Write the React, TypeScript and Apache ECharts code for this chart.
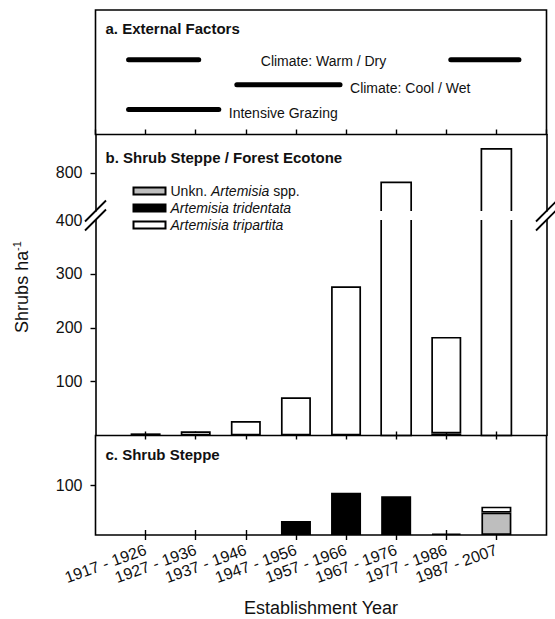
import React, { useEffect, useRef } from 'react';
import * as echarts from 'echarts';

// ---------------- data ----------------
const CATEGORIES = [
  '1917 - 1926', '1927 - 1936', '1937 - 1946', '1947 - 1956',
  '1957 - 1966', '1967 - 1976', '1977 - 1986', '1987 - 2007',
];
const SERIES_NAMES = ['Unkn. Artemisia spp.', 'Artemisia tridentata', 'Artemisia tripartita'];

// b. Shrub Steppe / Forest Ecotone (shrubs per ha)
const B_UNKNOWN = [0, 0, 0, 0, 0, 0, 0, 0];
const B_TRIDENTATA = [4, 0, 0, 0, 0, 0, 4, 0];
const B_TRIPARTITA = [0, 8, 27, 71, 277, 750, 179, 925];

// c. Shrub Steppe (shrubs per ha)
const C_UNKNOWN = [0, 0, 0, 0, 0, 0, 0, 45];
const C_TRIDENTATA = [0, 0, 0, 28, 85, 78, 3, 0];
const C_TRIPARTITA = [0, 0, 0, 0, 0, 0, 0, 12];

// axis ranges and ticks
const B_LOWER_RANGE = [0, 400];
const B_UPPER_RANGE = [600, 1000];
const C_RANGE = [0, 200];
const B_LOWER_TICKS = [100, 200, 300];
const B_LOWER_LABELS = [100, 200, 300, 400];
const B_UPPER_TICKS = [800];
const C_TICKS = [100];

// a. External factors: periods on the category scale (1 = first class centre)
const WARM_DRY = [[0.66, 2.06], [7.09, 8.45]];
const COOL_WET = [[2.82, 4.88]];
const GRAZING = [[0.66, 2.46]];
const WARM_DRY_LABEL_X = 4.55;

// ---------------- layout / style ----------------
const W = 555;
const H = 619;
const L = 95.5;
const R = 546.5;
const A_TOP = 10;
const A_BOT = 134.5;
const BU_BOT = 211;
const BL_TOP = 220;
const B_BOT = 435.5;
const C_BOT = 535;
const BAR_W = 30;
const ROW = { warm: 6, cool: 4, graze: 2 };
const FONT = '"Liberation Sans", Arial, Helvetica, sans-serif';
const INK = '#111';
const FILLS = ['#bebebe', '#000000', '#ffffff'];
const FRAME_W = 1.6;
const BAR_BORDER = 1.7;

const AXIS_CATS = ['', ...CATEGORIES, ''];
const tickFilter = (i: number) => i > 0 && i < AXIS_CATS.length - 1;
const toCat = (arr: number[], keep: (i: number) => boolean = () => true) =>
  ['-', ...arr.map((v, i) => (v && keep(i) ? v : '-')), '-'];

export default function App() {
  const ref = useRef<HTMLDivElement>(null);

  useEffect(() => {
    if (!ref.current) return;
    const chart = echarts.init(ref.current, undefined, { renderer: 'svg' });

    const bTotals = CATEGORIES.map((_, i) => B_UNKNOWN[i] + B_TRIDENTATA[i] + B_TRIPARTITA[i]);
    const notTall = (i: number) => bTotals[i] <= B_LOWER_RANGE[1];
    const tallData = bTotals
      .map((v, i) => [i + 1, v])
      .filter((d) => d[1] > B_LOWER_RANGE[1]);

    const lineW = { color: '#000', width: FRAME_W };
    const tickStyle = { color: '#000', width: 1.4 };
    const catAxisBase = {
      type: 'category',
      data: AXIS_CATS,
      boundaryGap: false,
      axisLine: { show: false, onZero: false },
      splitLine: { show: false },
      axisLabel: { show: false },
    };
    const yBase = {
      type: 'value',
      splitLine: { show: false },
      axisLine: { show: true, onZero: false, lineStyle: lineW },
      axisLabel: { show: false },
      axisTick: { show: false },
    };
    const yLabelStyle = { fontSize: 16, color: INK, fontFamily: FONT, margin: 13 };

    const gridBox = (top: number, bottom: number, border: boolean) => ({
      left: L,
      right: W - R,
      top,
      height: bottom - top,
      show: border,
      borderColor: '#000',
      borderWidth: FRAME_W,
      backgroundColor: 'transparent',
    });

    const barSeries = (
      name: string, data: any[], fill: string, xi: number, yi: number, stack: string
    ) => ({
      type: 'bar',
      name,
      data,
      stack,
      xAxisIndex: xi,
      yAxisIndex: yi,
      barWidth: BAR_W,
      itemStyle: { color: fill, borderColor: '#000', borderWidth: BAR_BORDER },
      emphasis: { disabled: true },
    });

    const periodSeries = (periods: number[][], row: number, label?: string) =>
      periods.map((p, k) => ({
        type: 'line',
        xAxisIndex: 0,
        yAxisIndex: 0,
        data: [[p[0], row], [p[1], row]],
        symbol: 'none',
        lineStyle: { color: '#000', width: 5, cap: 'round' },
        endLabel: label && k === periods.length - 1
          ? { show: true, formatter: label, distance: 10, offset: [0, 3], fontSize: 14, color: INK, fontFamily: FONT }
          : { show: false },
        silent: true,
      }));

    const option: any = {
      animation: false,
      backgroundColor: '#fff',
      textStyle: { fontFamily: FONT },
      grid: [
        gridBox(A_TOP, A_BOT, true),
        gridBox(A_BOT, BU_BOT, false),
        gridBox(BL_TOP, B_BOT, false),
        gridBox(B_BOT, C_BOT, true),
      ],
      xAxis: [
        {
          gridIndex: 0, type: 'value', min: 0, max: AXIS_CATS.length - 1, interval: 1,
          position: 'bottom', axisLine: { show: false, onZero: false },
          axisTick: { show: true, inside: true, length: 5, lineStyle: tickStyle },
          axisLabel: { show: false }, splitLine: { show: false },
        },
        { ...catAxisBase, gridIndex: 1, show: false },
        {
          ...catAxisBase, gridIndex: 2, position: 'bottom',
          axisTick: { show: true, inside: true, length: 4, interval: tickFilter, lineStyle: tickStyle },
        },
        {
          ...catAxisBase, gridIndex: 3, position: 'top',
          axisTick: { show: true, inside: true, length: 4, interval: tickFilter, lineStyle: tickStyle },
        },
        {
          ...catAxisBase, gridIndex: 3, position: 'bottom',
          axisTick: { show: true, inside: false, length: 5, interval: tickFilter, lineStyle: tickStyle },
          axisLabel: { show: true, interval: 0, rotate: 20, margin: 14, fontSize: 16, color: INK, fontFamily: FONT },
          name: 'Establishment Year', nameLocation: 'middle', nameGap: 64,
          nameTextStyle: { fontSize: 18, color: INK, fontFamily: FONT },
        },
        {
          ...catAxisBase, gridIndex: 3, position: 'bottom',
          axisTick: { show: true, inside: true, length: 5, interval: tickFilter, lineStyle: tickStyle },
        },
      ],
      yAxis: [
        { gridIndex: 0, type: 'value', min: 0, max: 10, show: false },
        {
          ...yBase, gridIndex: 1, min: B_UPPER_RANGE[0], max: B_UPPER_RANGE[1], position: 'left',
          axisTick: { show: true, length: 5, customValues: B_UPPER_TICKS, lineStyle: tickStyle },
          axisLabel: { show: true, customValues: B_UPPER_TICKS, ...yLabelStyle },
        },
        { ...yBase, gridIndex: 1, min: B_UPPER_RANGE[0], max: B_UPPER_RANGE[1], position: 'right' },
        {
          ...yBase, gridIndex: 2, min: B_LOWER_RANGE[0], max: B_LOWER_RANGE[1], position: 'left',
          axisTick: { show: true, length: 5, customValues: B_LOWER_TICKS, lineStyle: tickStyle },
          axisLabel: { show: true, customValues: B_LOWER_LABELS, ...yLabelStyle },
        },
        { ...yBase, gridIndex: 2, min: B_LOWER_RANGE[0], max: B_LOWER_RANGE[1], position: 'right' },
        {
          ...yBase, gridIndex: 3, min: C_RANGE[0], max: C_RANGE[1], position: 'left',
          axisLine: { show: false, onZero: false },
          axisTick: { show: true, length: 5, customValues: C_TICKS, lineStyle: tickStyle },
          axisLabel: { show: true, customValues: C_TICKS, ...yLabelStyle },
        },
      ],
      legend: {
        data: SERIES_NAMES,
        orient: 'vertical',
        left: 132.5,
        top: 184,
        padding: 0,
        itemWidth: 32,
        itemHeight: 7,
        itemGap: 3,
        icon: 'rect',
        selectedMode: false,
        formatter: (name: string) =>
          name === SERIES_NAMES[0] ? '{n|Unkn. }{i|Artemisia}{n| spp.}' : `{i|${name}}`,
        textStyle: {
          fontSize: 14,
          color: INK,
          fontFamily: FONT,
          rich: {
            n: { fontSize: 14, color: INK, fontFamily: FONT, lineHeight: 14 },
            i: { fontSize: 14, color: INK, fontFamily: FONT, fontStyle: 'italic', lineHeight: 14 },
          },
        },
      },
      series: [
        ...periodSeries(WARM_DRY, ROW.warm),
        ...periodSeries(COOL_WET, ROW.cool, 'Climate: Cool / Wet'),
        ...periodSeries(GRAZING, ROW.graze, 'Intensive Grazing'),
        {
          type: 'scatter', xAxisIndex: 0, yAxisIndex: 0, silent: true,
          data: [[WARM_DRY_LABEL_X, ROW.warm]],
          symbol: 'circle', symbolSize: 0.5, itemStyle: { color: '#ffffff', opacity: 1 },
          label: {
            show: true, position: 'inside', formatter: 'Climate: Warm / Dry',
            fontSize: 14, color: INK, opacity: 1, fontFamily: FONT, offset: [0, 1],
          },
        },
        // panel b, lower segment
        barSeries(SERIES_NAMES[0], toCat(B_UNKNOWN, notTall), FILLS[0], 2, 3, 'bL'),
        barSeries(SERIES_NAMES[1], toCat(B_TRIDENTATA, notTall), FILLS[1], 2, 3, 'bL'),
        barSeries(SERIES_NAMES[2], toCat(B_TRIPARTITA, notTall), FILLS[2], 2, 3, 'bL'),
        {
          type: 'custom', xAxisIndex: 2, yAxisIndex: 3, silent: true,
          data: tallData,
          renderItem: (_p: any, api: any) => {
            const idx = api.value(0);
            const base = api.coord([idx, B_LOWER_RANGE[0]]);
            const top = api.coord([idx, B_LOWER_RANGE[1]]);
            const l = base[0] - BAR_W / 2;
            const r = base[0] + BAR_W / 2;
            return {
              type: 'polyline',
              shape: { points: [[l, top[1]], [l, base[1]], [r, base[1]], [r, top[1]]] },
              style: { stroke: '#000', lineWidth: BAR_BORDER, fill: 'none' },
            };
          },
        },
        // panel b, upper segment
        {
          type: 'custom', xAxisIndex: 1, yAxisIndex: 1, silent: true,
          data: tallData,
          renderItem: (_p: any, api: any) => {
            const idx = api.value(0);
            const v = api.value(1);
            const base = api.coord([idx, B_UPPER_RANGE[0]]);
            const top = api.coord([idx, v]);
            const l = base[0] - BAR_W / 2;
            const r = base[0] + BAR_W / 2;
            return {
              type: 'polyline',
              shape: { points: [[l, base[1]], [l, top[1]], [r, top[1]], [r, base[1]]] },
              style: { stroke: '#000', lineWidth: BAR_BORDER, fill: 'none' },
            };
          },
        },
        // panel c
        barSeries(SERIES_NAMES[0], toCat(C_UNKNOWN), FILLS[0], 4, 5, 'c'),
        barSeries(SERIES_NAMES[1], toCat(C_TRIDENTATA), FILLS[1], 4, 5, 'c'),
        barSeries(SERIES_NAMES[2], toCat(C_TRIPARTITA), FILLS[2], 4, 5, 'c'),
      ],
      graphic: [
        { type: 'text', x: L + 10, y: 28, style: { text: 'a. External Factors', fontSize: 15, fontWeight: 'bold', fill: INK, fontFamily: FONT, verticalAlign: 'middle' } },
        { type: 'text', x: L + 10, y: 157, style: { text: 'b. Shrub Steppe / Forest Ecotone', fontSize: 15, fontWeight: 'bold', fill: INK, fontFamily: FONT, verticalAlign: 'middle' } },
        { type: 'text', x: L + 10, y: 454, style: { text: 'c. Shrub Steppe', fontSize: 15, fontWeight: 'bold', fill: INK, fontFamily: FONT, verticalAlign: 'middle' } },
        {
          type: 'text', x: 21, y: 287, rotation: Math.PI / 2,
          style: {
            text: '{a|Shrubs ha}{b|-1}',
            align: 'center', verticalAlign: 'middle', fill: INK, fontFamily: FONT,
            rich: {
              a: { fontSize: 18, fontFamily: FONT, fill: INK, lineHeight: 20, verticalAlign: 'bottom' },
              b: { fontSize: 11, fontFamily: FONT, fill: INK, lineHeight: 20, verticalAlign: 'top' },
            },
          },
        },
        // break marks
        ...[L, R].flatMap((x) => [BU_BOT, BL_TOP].map((y) => ({
          type: 'line',
          shape: { x1: x - 10.5, y1: y + 10.5, x2: x + 10.5, y2: y - 10.5 },
          style: { stroke: '#000', lineWidth: 1.8 },
        }))),
      ],
    };

    chart.setOption(option);
    return () => chart.dispose();
  }, []);

  return (
    <div
      ref={ref}
      style={{ position: 'absolute', left: 0, top: 0, width: W, height: H, background: '#fff' }}
    />
  );
}
